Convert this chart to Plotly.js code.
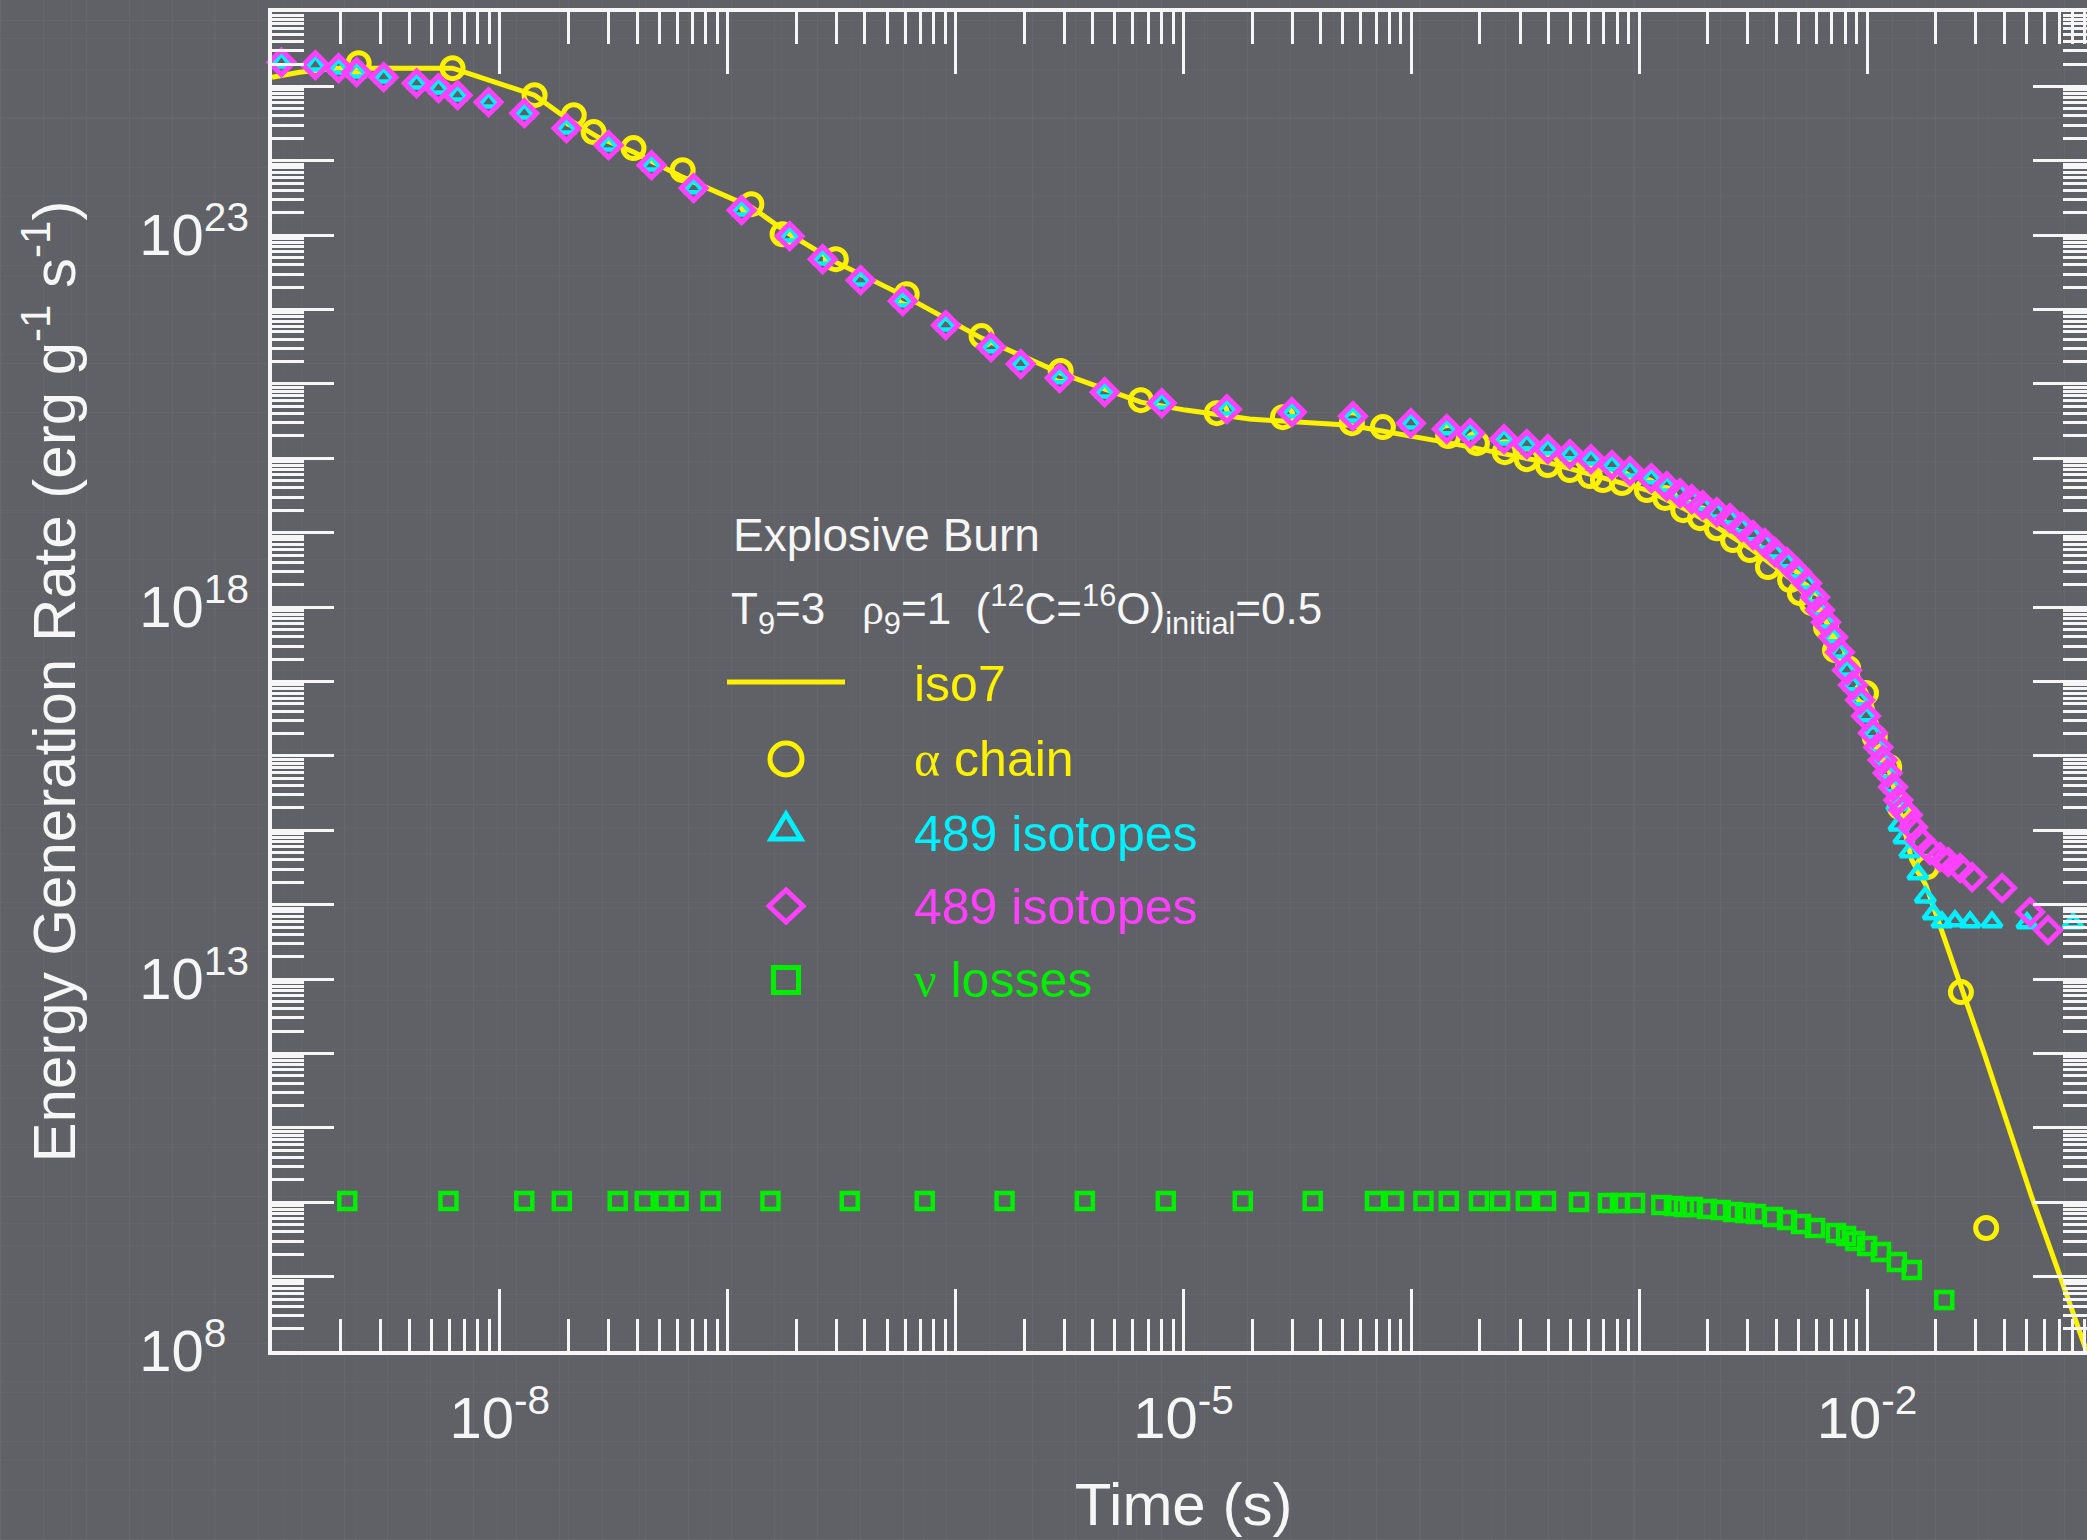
<!DOCTYPE html>
<html>
<head>
<meta charset="utf-8">
<script src="https://cdn.plot.ly/plotly-3.0.1.min.js"></script>
<style>
html,body{margin:0;padding:0;overflow:hidden;}
body{
  background-color:#5f6166;
  background-image:
    repeating-linear-gradient(90deg, rgba(255,255,255,0.030) 0px, rgba(255,255,255,0.030) 1px, transparent 1px, transparent 43px),
    repeating-linear-gradient(90deg, rgba(255,255,255,0.020) 0px, rgba(255,255,255,0.020) 1px, transparent 1px, transparent 71px),
    repeating-linear-gradient(0deg, rgba(255,255,255,0.025) 0px, rgba(255,255,255,0.025) 1px, transparent 1px, transparent 49px),
    repeating-linear-gradient(0deg, rgba(255,255,255,0.018) 0px, rgba(255,255,255,0.018) 1px, transparent 1px, transparent 79px);
}
#chart{width:2100px;height:1540px;}
</style>
</head>
<body>
<div id="chart"></div>
<script>
// ---------------- data ----------------
const iso7Time = [1.00e-9, 1.32e-9, 1.96e-9, 6.20e-9, 1.42e-8, 1.96e-8, 2.69e-8, 3.86e-8, 6.34e-8, 1.27e-7, 1.87e-7, 2.98e-7, 6.10e-7, 1.30e-6, 2.89e-6, 6.50e-6, 1.02e-5, 1.95e-5, 5.37e-5, 1.48e-4, 4.06e-4, 6.93e-4, 1.08e-3, 1.56e-3, 2.19e-3, 3.06e-3, 4.59e-3, 6.03e-3, 7.84e-3, 1.03e-2, 1.20e-2, 1.39e-2, 1.57e-2, 1.81e-2, 2.18e-2, 2.64e-2, 3.26e-2, 4.16e-2, 5.24e-2, 6.68e-2, 1.0e-1];
const iso7Rate = [1.33e25, 1.55e25, 1.76e25, 1.76e25, 7.62e24, 3.74e24, 2.08e24, 1.31e24, 6.03e23, 2.38e23, 1.03e23, 4.34e22, 1.47e22, 4.13e21, 1.40e21, 5.70e20, 4.45e20, 3.37e20, 2.79e20, 1.60e20, 8.63e19, 5.42e19, 3.74e19, 2.14e19, 1.19e19, 6.21e18, 2.45e18, 9.70e17, 2.81e17, 5.62e16, 1.03e16, 1.87e15, 3.98e14, 1.84e14, 3.56e13, 6.68e12, 1.01e12, 1.06e11, 1.25e10, 1.57e9, 4.75e7];

const alphaTime = [2.40e-9, 6.20e-9, 1.42e-8, 2.11e-8, 2.58e-8, 3.86e-8, 6.34e-8, 1.27e-7, 1.74e-7, 2.98e-7, 6.10e-7, 1.30e-6, 2.89e-6, 6.50e-6, 1.40e-5, 2.73e-5, 5.48e-5, 7.50e-5, 1.45e-4, 1.94e-4, 2.57e-4, 3.21e-4, 3.97e-4, 4.96e-4, 6.07e-4, 6.93e-4, 8.40e-4, 1.08e-3, 1.30e-3, 1.56e-3, 1.85e-3, 2.19e-3, 2.58e-3, 3.06e-3, 3.67e-3, 4.59e-3, 5.07e-3, 5.73e-3, 6.60e-3, 7.23e-3, 8.25e-3, 9.89e-3, 1.08e-2, 1.25e-2, 1.39e-2, 1.83e-2, 2.58e-2, 3.33e-2];
const alphaRate = [2.05e25, 1.76e25, 7.62e24, 4.10e24, 2.43e24, 1.48e24, 7.48e23, 2.61e23, 1.03e23, 4.76e22, 1.61e22, 4.40e21, 1.49e21, 6.06e20, 4.05e20, 3.58e20, 2.97e20, 2.63e20, 1.99e20, 1.60e20, 1.21e20, 9.75e19, 8.11e19, 6.95e19, 5.77e19, 5.10e19, 4.65e19, 3.74e19, 2.92e19, 2.01e19, 1.57e19, 1.15e19, 7.96e18, 5.84e18, 3.45e18, 2.31e18, 1.54e18, 1.13e18, 5.38e17, 2.64e17, 1.51e17, 6.98e16, 1.79e16, 7.08e15, 2.05e15, 3.20e14, 6.68e12, 4.50e9];

const triTime = [1.10e-9, 1.55e-9, 1.96e-9, 2.35e-9, 3.09e-9, 4.31e-9, 5.38e-9, 6.52e-9, 8.92e-9, 1.28e-8, 1.96e-8, 3.00e-8, 4.63e-8, 7.08e-8, 1.15e-7, 1.87e-7, 2.61e-7, 3.83e-7, 5.86e-7, 9.05e-7, 1.43e-6, 1.93e-6, 2.86e-6, 4.51e-6, 8.03e-6, 1.55e-5, 2.99e-5, 5.54e-5, 9.95e-5, 1.43e-4, 1.81e-4, 2.55e-4, 3.21e-4, 3.97e-4, 4.96e-4, 6.14e-4, 7.59e-4, 9.10e-4, 1.13e-3, 1.32e-3, 1.51e-3, 1.70e-3, 1.90e-3, 2.19e-3, 2.50e-3, 2.82e-3, 3.16e-3, 3.56e-3, 3.94e-3, 4.45e-3, 4.92e-3, 5.45e-3, 5.91e-3, 6.21e-3, 6.60e-3, 7.09e-3, 7.60e-3, 8.16e-3, 8.67e-3, 9.31e-3, 9.89e-3, 1.06e-2, 1.12e-2, 1.17e-2, 1.23e-2, 1.30e-2, 1.35e-2, 1.38e-2, 1.45e-2, 1.54e-2, 1.67e-2, 1.80e-2, 1.95e-2, 2.13e-2, 2.43e-2, 2.83e-2, 3.53e-2, 5.03e-2, 8.01e-2];
const triRate = [2.11e25, 1.93e25, 1.76e25, 1.55e25, 1.33e25, 1.10e25, 9.46e24, 7.62e24, 6.14e24, 4.37e24, 2.74e24, 1.62e24, 8.73e23, 4.29e23, 2.17e23, 9.70e22, 4.76e22, 2.48e22, 1.30e22, 6.17e21, 3.13e21, 1.85e21, 1.20e21, 7.76e20, 5.52e20, 4.58e20, 4.18e20, 3.69e20, 2.97e20, 2.47e20, 2.18e20, 1.81e20, 1.55e20, 1.33e20, 1.14e20, 9.75e19, 8.11e19, 6.73e19, 5.42e19, 4.23e19, 3.40e19, 2.83e19, 2.35e19, 1.89e19, 1.57e19, 1.19e19, 9.29e18, 7.24e18, 5.48e18, 4.03e18, 2.96e18, 2.10e18, 1.36e18, 9.12e17, 6.28e17, 3.95e17, 2.48e17, 1.42e17, 8.95e16, 5.62e16, 3.43e16, 2.03e16, 1.31e16, 8.79e15, 5.87e15, 3.81e15, 2.18e15, 1.17e15, 7.85e14, 5.09e14, 2.58e14, 1.26e14, 7.48e13, 5.83e13, 6.03e13, 5.83e13, 5.83e13, 5.66e13, 5.66e13];

const diaTime = [1.10e-9, 1.55e-9, 1.96e-9, 2.35e-9, 3.09e-9, 4.31e-9, 5.38e-9, 6.52e-9, 8.92e-9, 1.28e-8, 1.96e-8, 3.00e-8, 4.63e-8, 7.08e-8, 1.15e-7, 1.87e-7, 2.61e-7, 3.83e-7, 5.86e-7, 9.05e-7, 1.43e-6, 1.93e-6, 2.86e-6, 4.51e-6, 8.03e-6, 1.55e-5, 2.99e-5, 5.54e-5, 9.95e-5, 1.43e-4, 1.81e-4, 2.55e-4, 3.21e-4, 3.97e-4, 4.96e-4, 6.14e-4, 7.59e-4, 9.10e-4, 1.13e-3, 1.32e-3, 1.51e-3, 1.70e-3, 1.90e-3, 2.19e-3, 2.50e-3, 2.82e-3, 3.16e-3, 3.56e-3, 3.94e-3, 4.45e-3, 4.92e-3, 5.45e-3, 5.91e-3, 6.21e-3, 6.60e-3, 7.09e-3, 7.60e-3, 8.16e-3, 8.67e-3, 9.31e-3, 9.89e-3, 1.06e-2, 1.12e-2, 1.17e-2, 1.23e-2, 1.30e-2, 1.37e-2, 1.44e-2, 1.51e-2, 1.59e-2, 1.71e-2, 1.89e-2, 2.09e-2, 2.27e-2, 2.56e-2, 2.89e-2, 3.91e-2, 5.19e-2, 6.22e-2];
const diaRate = [2.11e25, 1.93e25, 1.76e25, 1.55e25, 1.33e25, 1.10e25, 9.46e24, 7.62e24, 6.14e24, 4.37e24, 2.74e24, 1.62e24, 8.73e23, 4.29e23, 2.17e23, 9.70e22, 4.76e22, 2.48e22, 1.30e22, 6.17e21, 3.13e21, 1.85e21, 1.20e21, 7.76e20, 5.52e20, 4.58e20, 4.18e20, 3.69e20, 2.97e20, 2.47e20, 2.18e20, 1.81e20, 1.55e20, 1.33e20, 1.14e20, 9.75e19, 8.11e19, 6.73e19, 5.42e19, 4.23e19, 3.40e19, 2.83e19, 2.35e19, 1.89e19, 1.57e19, 1.19e19, 9.29e18, 7.24e18, 5.48e18, 4.03e18, 2.96e18, 2.10e18, 1.36e18, 9.12e17, 6.28e17, 3.95e17, 2.48e17, 1.42e17, 8.95e16, 5.62e16, 3.43e16, 2.03e16, 1.31e16, 8.79e15, 5.87e15, 3.81e15, 2.55e15, 1.87e15, 1.60e15, 1.10e15, 7.38e14, 5.42e14, 4.37e14, 3.74e14, 3.10e14, 2.35e14, 1.67e14, 7.96e13, 4.56e13];

const nuTime = [2.14e-9, 5.95e-9, 1.28e-8, 1.87e-8, 3.29e-8, 4.32e-8, 5.28e-8, 6.09e-8, 8.41e-8, 1.54e-7, 3.43e-7, 7.32e-7, 1.64e-6, 3.69e-6, 8.36e-6, 1.82e-5, 3.69e-5, 6.92e-5, 8.38e-5, 1.13e-4, 1.46e-4, 1.98e-4, 2.45e-4, 3.18e-4, 3.90e-4, 5.44e-4, 7.29e-4, 8.23e-4, 9.58e-4, 1.25e-3, 1.42e-3, 1.57e-3, 1.72e-3, 1.98e-3, 2.28e-3, 2.58e-3, 2.91e-3, 3.25e-3, 3.86e-3, 4.45e-3, 5.13e-3, 5.91e-3, 7.30e-3, 8.08e-3, 8.85e-3, 1.00e-2, 1.15e-2, 1.35e-2, 1.57e-2, 2.18e-2];
const nuRate = [1.04e10, 1.04e10, 1.04e10, 1.04e10, 1.04e10, 1.04e10, 1.04e10, 1.04e10, 1.04e10, 1.04e10, 1.04e10, 1.04e10, 1.04e10, 1.04e10, 1.04e10, 1.04e10, 1.04e10, 1.04e10, 1.04e10, 1.04e10, 1.04e10, 1.04e10, 1.04e10, 1.04e10, 1.04e10, 1.01e10, 9.75e9, 9.75e9, 9.75e9, 9.17e9, 8.89e9, 8.61e9, 8.61e9, 8.10e9, 7.85e9, 7.38e9, 7.16e9, 6.94e9, 6.32e9, 5.76e9, 5.09e9, 4.50e9, 3.85e9, 3.52e9, 3.01e9, 2.58e9, 2.14e9, 1.57e9, 1.23e9, 4.85e8];

// ticks: long ticks at every decade, labels only on some decades
const xDecades = [1e-9, 1e-8, 1e-7, 1e-6, 1e-5, 1e-4, 1e-3, 1e-2, 1e-1];
const xLabelVals = [1e-8, 1e-5, 1e-2];
const xLabelText = ['10<sup>-8</sup>', '10<sup>-5</sup>', '10<sup>-2</sup>'];
const yDecades = [1e8, 1e9, 1e10, 1e11, 1e12, 1e13, 1e14, 1e15, 1e16, 1e17, 1e18, 1e19, 1e20, 1e21, 1e22, 1e23, 1e24, 1e25, 1e26];
const yLabelVals = [1e8, 1e13, 1e18, 1e23];
const yLabelText = ['10<sup>8\u2007</sup>', '10<sup>13</sup>', '10<sup>18</sup>', '10<sup>23</sup>'];

// legend / labels text
const seriesNames = ['iso7', '<span style="font-family:\'Liberation Serif\',serif">\u03b1</span> chain', '489 isotopes', '489 isotopes', '<span style="font-family:\'Liberation Serif\',serif">\u03bd</span> losses'];
const legendTitle = 'Explosive Burn';
const legendSubtitle = 'T<sub>9</sub>=3\u00a0\u00a0\u00a0<span style="font-family:\'Liberation Serif\',serif">\u03c1</span><sub>9</sub>=1\u00a0\u00a0(<sup>12</sup>C=<sup>16</sup>O)<sub>initial</sub>=0.5';
const xTitle = 'Time (s)';
const yTitle = 'Energy Generation Rate (erg g<sup>-1</sup>\u00a0s<sup>-1</sup>)';

// ---------------- styling ----------------
const YEL = '#fff200', CYA = '#00f0ff', MAG = '#ff40ff', GRN = '#00ee00', WHT = '#f6f6f6';
const FONT = '"Liberation Sans", Arial, Helvetica, sans-serif';

function minorVals(vals) {
  const out = [];
  for (let i = 0; i < vals.length - 1; i++) for (let m = 2; m <= 9; m++) out.push(m * vals[i]);
  return out;
}

const traces = [
  {x: iso7Time, y: iso7Rate, mode: 'lines', name: 'iso7', line: {color: YEL, width: 5}},
  {x: alphaTime, y: alphaRate, mode: 'markers', name: 'alpha chain', cliponaxis: false,
   marker: {symbol: 'circle-open', size: 21, color: YEL, line: {color: YEL, width: 5}}},
  {x: triTime, y: triRate, mode: 'markers', name: '489 isotopes (triangles)', cliponaxis: false,
   marker: {symbol: 'triangle-up-open', size: 17, color: CYA, line: {color: CYA, width: 4.5}}},
  {x: diaTime, y: diaRate, mode: 'markers', name: '489 isotopes (diamonds)', cliponaxis: false,
   marker: {symbol: 'diamond-open', size: 19, color: MAG, line: {color: MAG, width: 5}}},
  // neutrino losses are drawn on the overlaid (labelled) axes, which share the same ranges
  {x: nuTime, y: nuRate, xaxis: 'x2', yaxis: 'y2', mode: 'markers', name: 'nu losses', cliponaxis: false,
   marker: {symbol: 'square-open', size: 16, color: GRN, line: {color: GRN, width: 4.5}}}
];

// plot area in pixels (for legend placement in paper coords)
const L = 272, R = 2095, T = 12, B = 1351;
const px = v => (v - L) / (R - L);
const py = v => (B - v) / (B - T);

const tickAxis = {
  type: 'log', showgrid: false, zeroline: false,
  showline: true, linecolor: WHT, linewidth: 4, mirror: 'ticks',
  ticks: 'inside', ticklen: 62, tickwidth: 3, tickcolor: WHT,
  tickmode: 'array', showticklabels: false, automargin: false
};
const labelAxis = {
  type: 'log', showgrid: false, zeroline: false, showline: false,
  ticks: '', tickmode: 'array', showticklabels: true,
  tickfont: {family: FONT, size: 58, color: WHT}, automargin: false
};

const layout = {
  width: 2100, height: 1540,
  margin: {l: L, r: 2100 - R, t: T, b: 1540 - B, pad: 0},
  paper_bgcolor: 'rgba(0,0,0,0)', plot_bgcolor: 'rgba(0,0,0,0)',
  showlegend: false,
  font: {family: FONT, color: WHT},
  xaxis: Object.assign({}, tickAxis, {
    range: [-9, -1], tickvals: xDecades,
    minor: {tickmode: 'array', tickvals: minorVals(xDecades), ticks: 'inside', ticklen: 32, tickwidth: 3, tickcolor: WHT, showgrid: false}
  }),
  yaxis: Object.assign({}, tickAxis, {
    range: [8, 26], tickvals: yDecades,
    minor: {tickmode: 'array', tickvals: minorVals(yDecades), ticks: 'inside', ticklen: 32, tickwidth: 3, tickcolor: WHT, showgrid: false}
  }),
  xaxis2: Object.assign({}, labelAxis, {
    overlaying: 'x', anchor: 'y2', side: 'bottom', range: [-9, -1],
    tickvals: xLabelVals, ticktext: xLabelText, ticklabelstandoff: 28,
    title: {text: xTitle, font: {family: FONT, size: 60, color: WHT}, standoff: 33}
  }),
  yaxis2: Object.assign({}, labelAxis, {
    overlaying: 'y', anchor: 'x2', side: 'left', range: [8, 26],
    tickvals: yLabelVals, ticktext: yLabelText, ticklabelstandoff: 22,
    title: {text: yTitle, font: {family: FONT, size: 60, color: WHT}, standoff: 44}
  }),
  annotations: [
    {text: legendTitle, xref: 'paper', yref: 'paper', x: px(731), y: py(535), xanchor: 'left', yanchor: 'middle', showarrow: false, font: {family: FONT, size: 46, color: WHT}},
    {text: legendSubtitle, xref: 'paper', yref: 'paper', x: px(729), y: py(609), xanchor: 'left', yanchor: 'middle', showarrow: false, font: {family: FONT, size: 44, color: WHT}},
    {text: seriesNames[0], xref: 'paper', yref: 'paper', x: px(912), y: py(684), xanchor: 'left', yanchor: 'middle', showarrow: false, font: {family: FONT, size: 50, color: YEL}},
    {text: seriesNames[1], xref: 'paper', yref: 'paper', x: px(912), y: py(759), xanchor: 'left', yanchor: 'middle', showarrow: false, font: {family: FONT, size: 50, color: YEL}},
    {text: seriesNames[2], xref: 'paper', yref: 'paper', x: px(912), y: py(834), xanchor: 'left', yanchor: 'middle', showarrow: false, font: {family: FONT, size: 50, color: CYA}},
    {text: seriesNames[3], xref: 'paper', yref: 'paper', x: px(912), y: py(907), xanchor: 'left', yanchor: 'middle', showarrow: false, font: {family: FONT, size: 50, color: MAG}},
    {text: seriesNames[4], xref: 'paper', yref: 'paper', x: px(912), y: py(980), xanchor: 'left', yanchor: 'middle', showarrow: false, font: {family: FONT, size: 50, color: GRN}}
  ],
  shapes: [
    {type: 'line', xref: 'paper', yref: 'paper', x0: px(727), x1: px(845), y0: py(682), y1: py(682), line: {color: YEL, width: 5}},
    {type: 'circle', xref: 'paper', yref: 'paper', xsizemode: 'pixel', ysizemode: 'pixel', xanchor: px(786), yanchor: py(759),
     x0: -16, x1: 16, y0: -16, y1: 16, line: {color: YEL, width: 5}, fillcolor: 'rgba(0,0,0,0)'},
    {type: 'path', xref: 'paper', yref: 'paper', xsizemode: 'pixel', ysizemode: 'pixel', xanchor: px(786), yanchor: py(830),
     path: 'M -15,-9 L 15,-9 L 0,16 Z', line: {color: CYA, width: 5}, fillcolor: 'rgba(0,0,0,0)'},
    {type: 'path', xref: 'paper', yref: 'paper', xsizemode: 'pixel', ysizemode: 'pixel', xanchor: px(786), yanchor: py(906),
     path: 'M -17,0 L 0,16 L 17,0 L 0,-16 Z', line: {color: MAG, width: 5}, fillcolor: 'rgba(0,0,0,0)'},
    {type: 'rect', xref: 'paper', yref: 'paper', xsizemode: 'pixel', ysizemode: 'pixel', xanchor: px(786), yanchor: py(980),
     x0: -12.5, x1: 12.5, y0: -12.5, y1: 12.5, line: {color: GRN, width: 5}, fillcolor: 'rgba(0,0,0,0)'}
  ]
};

Plotly.newPlot('chart', traces, layout, {staticPlot: true, displayModeBar: false});
</script>
</body>
</html>
